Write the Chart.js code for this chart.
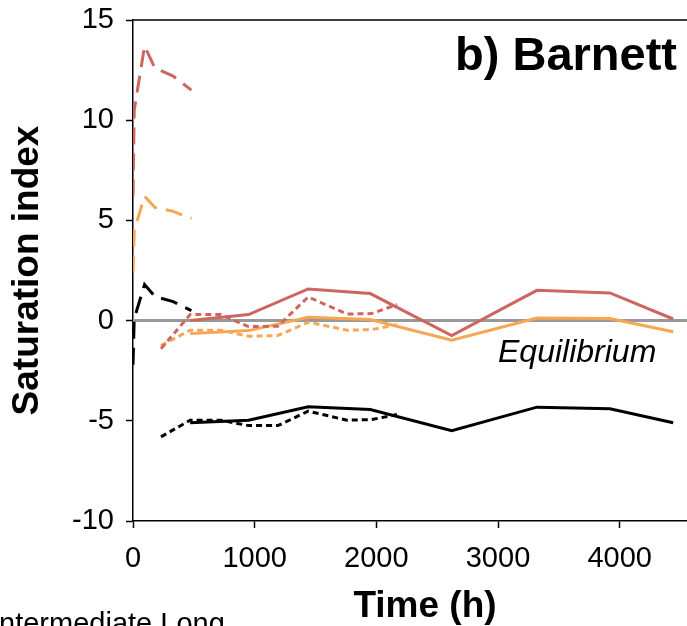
<!DOCTYPE html>
<html>
<head>
<meta charset="utf-8">
<script src="https://cdn.jsdelivr.net/npm/chart.js@4.4.1/dist/chart.umd.min.js"></script>
<style>
  html, body { margin: 0; padding: 0; background: #fff; overflow: hidden; }
  #wrap { position: relative; width: 720px; height: 626px; }
</style>
</head>
<body>
<div id="wrap"><canvas id="chart" width="720" height="626"></canvas></div>
<script>
// time (h) for each experiment phase
const timeShort = [0, 10, 95, 180, 330, 480];
const timeMid = [230, 470, 720, 950, 1190, 1440, 1760, 1960, 2170];
const timeLong = [470, 950, 1440, 1950, 2620, 3320, 3920, 4440];

// saturation index, short run (long dashes)
const redShort = [6.2, 10.5, 13.7, 12.6, 12.2, 11.5];
const orangeShort = [2.4, 4.5, 6.2, 5.65, 5.45, 5.1];
const blackShort = [-2.2, 0.1, 1.8, 1.2, 0.95, 0.5];

// intermediate run (short dashes)
const redMid = [-1.4, 0.3, 0.3, -0.3, -0.28, 1.18, 0.33, 0.35, 0.8];
const orangeMid = [-1.25, -0.48, -0.48, -0.78, -0.75, -0.08, -0.48, -0.45, -0.2];
const blackMid = [-5.8, -4.97, -4.97, -5.24, -5.24, -4.52, -4.97, -4.94, -4.69];

// long run (solid)
const redLong = [0.0, 0.3, 1.58, 1.35, -0.75, 1.51, 1.38, 0.08];
const orangeLong = [-0.65, -0.5, 0.17, 0.05, -0.98, 0.13, 0.1, -0.56];
const blackLong = [-5.1, -4.97, -4.3, -4.44, -5.49, -4.32, -4.4, -5.1];

const xTicks = [0, 1000, 2000, 3000, 4000];
const yTicks = [-10, -5, 0, 5, 10, 15];

const RED = "rgb(206, 102, 96)";
const ORANGE = "rgb(247, 166, 84)";
const BLACK = "#000000";
const FONT = "'Liberation Sans', Arial, sans-serif";

function pts(xs, ys) {
  return xs.map((x, i) => ({ x: x, y: ys[i] }));
}

function line(data, color, dash, order) {
  return {
    data: data,
    borderColor: color,
    borderWidth: 3,
    borderDash: dash,
    pointRadius: 0,
    tension: 0,
    fill: false,
    order: order,
  };
}

const LONG_DASH = [17, 9];
const SHORT_DASH = [6, 4];

// kill the label overflow padding so the plot box sits where it should
function noPad(scale) {
  scale.paddingTop = 0;
  scale.paddingBottom = 0;
  scale.paddingLeft = 0;
  scale.paddingRight = 0;
}

const annotations = {
  id: "annotations",
  afterDraw(chart) {
    const { ctx, chartArea } = chart;
    ctx.save();
    ctx.strokeStyle = "#000";
    ctx.lineWidth = 1.5;
    ctx.beginPath();
    ctx.moveTo(chartArea.left, chartArea.top);
    ctx.lineTo(chartArea.right, chartArea.top);
    ctx.stroke();

    ctx.fillStyle = "#000";
    ctx.textBaseline = "alphabetic";
    ctx.font = "bold 47px " + FONT;
    ctx.textAlign = "right";
    ctx.fillText("b) Barnett", 677, 70);

    ctx.font = "italic 32px " + FONT;
    ctx.textAlign = "left";
    ctx.fillText("Equilibrium", 498, 362);

    ctx.font = "29px " + FONT;
    ctx.fillText("Intermediate Long", -9, 633);
    ctx.restore();
  },
};

new Chart(document.getElementById("chart"), {
  type: "line",
  data: {
    datasets: [
      line(pts(timeShort, redShort), RED, LONG_DASH, 1),
      line(pts(timeShort, orangeShort), ORANGE, LONG_DASH, 1),
      line(pts(timeShort, blackShort), BLACK, LONG_DASH, 1),
      line(pts(timeMid, redMid), RED, SHORT_DASH, 2),
      line(pts(timeMid, orangeMid), ORANGE, SHORT_DASH, 2),
      line(pts(timeMid, blackMid), BLACK, SHORT_DASH, 2),
      line(pts(timeLong, redLong), RED, [], 3),
      line(pts(timeLong, orangeLong), ORANGE, [], 3),
      line(pts(timeLong, blackLong), BLACK, [], 3),
      // equilibrium line
      line(pts([0, 4800], [0, 0]), "#999999", [], 10),
    ],
  },
  options: {
    responsive: false,
    animation: false,
    layout: { padding: { left: 0, top: 20, right: 3, bottom: 0 } },
    plugins: {
      legend: { display: false },
      tooltip: { enabled: false },
    },
    scales: {
      x: {
        type: "linear",
        min: 0,
        max: 4800,
        afterFit: (scale) => {
          scale.height = 105;
          noPad(scale);
        },
        afterBuildTicks: (scale) => {
          scale.ticks = xTicks.map((v) => ({ value: v }));
        },
        ticks: {
          color: "#000",
          font: { family: FONT, size: 29 },
          padding: 14,
          maxRotation: 0,
          autoSkip: false,
          callback: (v) => String(v),
        },
        grid: {
          drawOnChartArea: false,
          drawTicks: true,
          tickLength: 7,
          tickColor: "#000",
          tickWidth: 1.5,
        },
        border: { color: "#000", width: 1.5 },
        title: {
          display: true,
          text: "Time (h)",
          color: "#000",
          font: { family: FONT, size: 37, weight: "bold" },
          padding: { top: 0, bottom: -3 },
        },
      },
      y: {
        min: -10,
        max: 15,
        afterFit: (scale) => {
          scale.width = 133;
          noPad(scale);
        },
        afterBuildTicks: (scale) => {
          scale.ticks = yTicks.map((v) => ({ value: v }));
        },
        ticks: {
          color: "#000",
          font: { family: FONT, size: 29 },
          padding: 12,
          callback: (v) => String(v),
        },
        grid: {
          drawOnChartArea: false,
          drawTicks: true,
          tickLength: 7,
          tickColor: "#000",
          tickWidth: 1.5,
        },
        border: { color: "#000", width: 1.5 },
        title: {
          display: true,
          text: "Saturation index",
          color: "#000",
          font: { family: FONT, size: 37, weight: "bold" },
          padding: { top: 6, bottom: 0 },
        },
      },
    },
  },
  plugins: [annotations],
});
</script>
</body>
</html>
